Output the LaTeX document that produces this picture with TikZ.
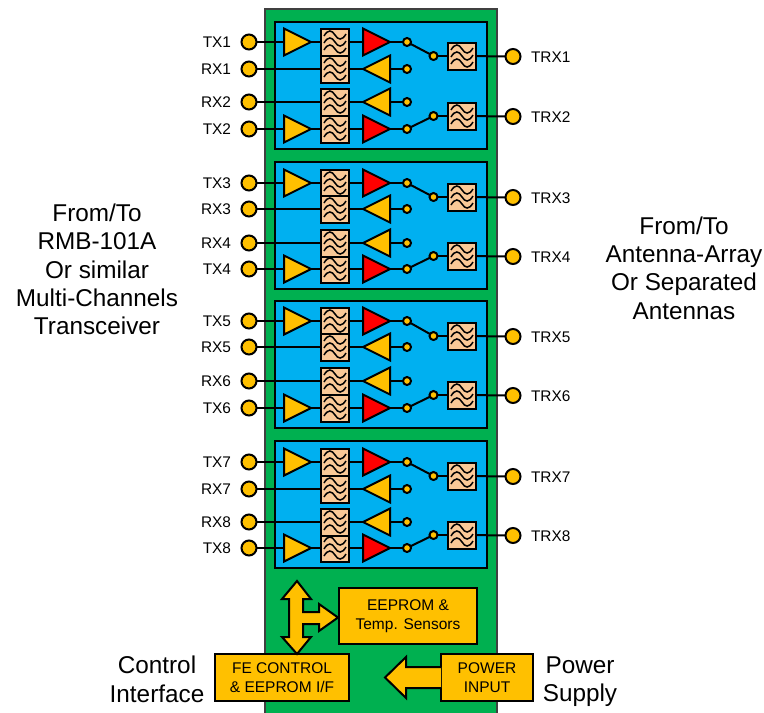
\documentclass[tikz,border=0pt]{standalone}
\usepackage{fontspec}
\setmainfont{Liberation Sans}
\usetikzlibrary{shapes.geometric}

\definecolor{boardgreen}{HTML}{00B050}
\definecolor{blockblue}{HTML}{00B0F0}
\definecolor{ampyellow}{HTML}{FFC000}
\definecolor{filterpeach}{HTML}{FAC997}

\newcommand\filterwave[1]{\draw[line width=1.5pt,shift={(path picture bounding box.center)}]
  (-11,#1+1) .. controls (-7,#1-6) and (-3,#1-5) .. (0,#1) .. controls (3,#1+5) and (7,#1+6) .. (11,#1-1);}

\begin{document}
\begin{tikzpicture}[x=1pt,y=-1pt,line width=2pt,
    every node/.style={inner sep=0pt,outer sep=0pt},
    board/.style={rectangle,draw=black!75,fill=boardgreen,minimum width=232pt,minimum height=720pt,anchor=north west},
    block/.style={rectangle,draw,fill=blockblue,minimum width=212pt,minimum height=127pt,anchor=north west},
    port/.style={circle,draw,fill=ampyellow,minimum size=15pt},
    tap/.style={circle,draw,fill=ampyellow,minimum size=8pt},
    amp/.style={isosceles triangle,isosceles triangle stretches,draw,fill=ampyellow,minimum width=27pt,minimum height=27pt,anchor=apex},
    pa/.style={amp,fill=red},
    lna/.style={amp,shape border rotate=180},
    filterbox/.style={rectangle,draw,fill=filterpeach,minimum width=28pt,minimum height=27pt,
      path picture={\filterwave{-7}\filterwave{0}\filterwave{7}}},
    ctrlbox/.style={rectangle,draw,fill=ampyellow,align=center,font=\fontsize{15.5}{19}\selectfont},
    blockarrow/.style={draw,fill=ampyellow,line join=miter},
    small/.style={font=\fontsize{15.4}{18}\selectfont},
    big/.style={align=center,font=\fontsize{24.3}{28.4}\selectfont}]

\useasboundingbox (0,0) rectangle (764,713);

\node[board] (board) at (265,9) {};

\foreach \blk/\ytop in {1/22,2/162,3/301,4/441}
  \node[block] (block\blk) at (275,\ytop) {};

% one channel: tx row, rx row, common antenna row
\foreach \ch/\ty/\ry/\ay in {1/42/69/56,2/129/102/116,3/183/209/197,4/269/243/256,
                             5/321/347/336,6/408/381/395,7/462/489/476,8/548/522/535} {
  \node[port] (tx\ch) at (249,\ty) {};
  \node[port] (rx\ch) at (249,\ry) {};
  \node[port] (trx\ch) at (513,\ay+0.5) {};
  \node[small,anchor=east] (txlabel\ch) at (231,\ty) {TX\ch};
  \node[small,anchor=east] (rxlabel\ch) at (231,\ry) {RX\ch};
  \node[small,anchor=west] (trxlabel\ch) at (531,\ay+1) {TRX\ch};

  \node[amp] (drv\ch) at (311,\ty) {};
  \node[filterbox] (txf\ch) at (335,\ty) {};
  \node[filterbox] (rxf\ch) at (335,\ry) {};
  \node[pa] (pa\ch) at (390,\ty) {};
  \node[lna] (lna\ch) at (363,\ry) {};
  \node[tap] (txtap\ch) at (407,\ty) {};
  \node[tap] (rxtap\ch) at (407,\ry) {};
  \node[tap] (sw\ch) at (433.5,\ay) {};
  \node[filterbox] (antf\ch) at (462,\ay) {};

  \draw (tx\ch) -- (drv\ch.lower side);
  \draw (drv\ch.apex) -- (txf\ch);
  \draw (txf\ch) -- (pa\ch.lower side);
  \draw (pa\ch.apex) -- (txtap\ch);
  \draw (rx\ch) -- (rxf\ch);
  \draw (rxf\ch) -- (lna\ch.apex);
  \draw (lna\ch.lower side) -- (rxtap\ch);
  \draw (txtap\ch) -- (sw\ch);
  \draw (sw\ch) -- (antf\ch);
  \draw (antf\ch) -- (trx\ch);
}

\node[ctrlbox,minimum width=138pt,minimum height=56pt] (eeprom) at (408,616) {EEPROM \&\\Temp. Sensors};
\node[ctrlbox,minimum width=134pt,minimum height=47pt] (fectrl) at (282,677.5) {FE CONTROL\\\& EEPROM I/F};
\node[ctrlbox,minimum width=92pt,minimum height=47pt] (power) at (487,677.5) {POWER\\INPUT};

% block arrows
\draw[blockarrow] (297,581) -- (311,599) -- (303,599) -- (303,612) -- (319,612) -- (319,604)
  -- (338,617.5) -- (319,631) -- (319,624) -- (303,624) -- (303,637) -- (311,637) -- (297,654)
  -- (282,637) -- (289,637) -- (289,599) -- (282,599) -- cycle;
\draw[blockarrow] (441,667) -- (406,667) -- (406,657) -- (385,677.5) -- (406,698) -- (406,688) -- (441,688);

\node[big] (fromleft) at (97,269.5) {From/To\\RMB-101A\\Or similar\\Multi-Channels\\Transceiver};
\node[big] (fromright) at (684,268) {From/To\\Antenna-Array\\Or Separated\\Antennas};
\node[big] (ctrlif) at (157,679.5) {Control\\Interface};
\node[big] (supply) at (580,681.5) {Power\\Supply};

\end{tikzpicture}
\end{document}
